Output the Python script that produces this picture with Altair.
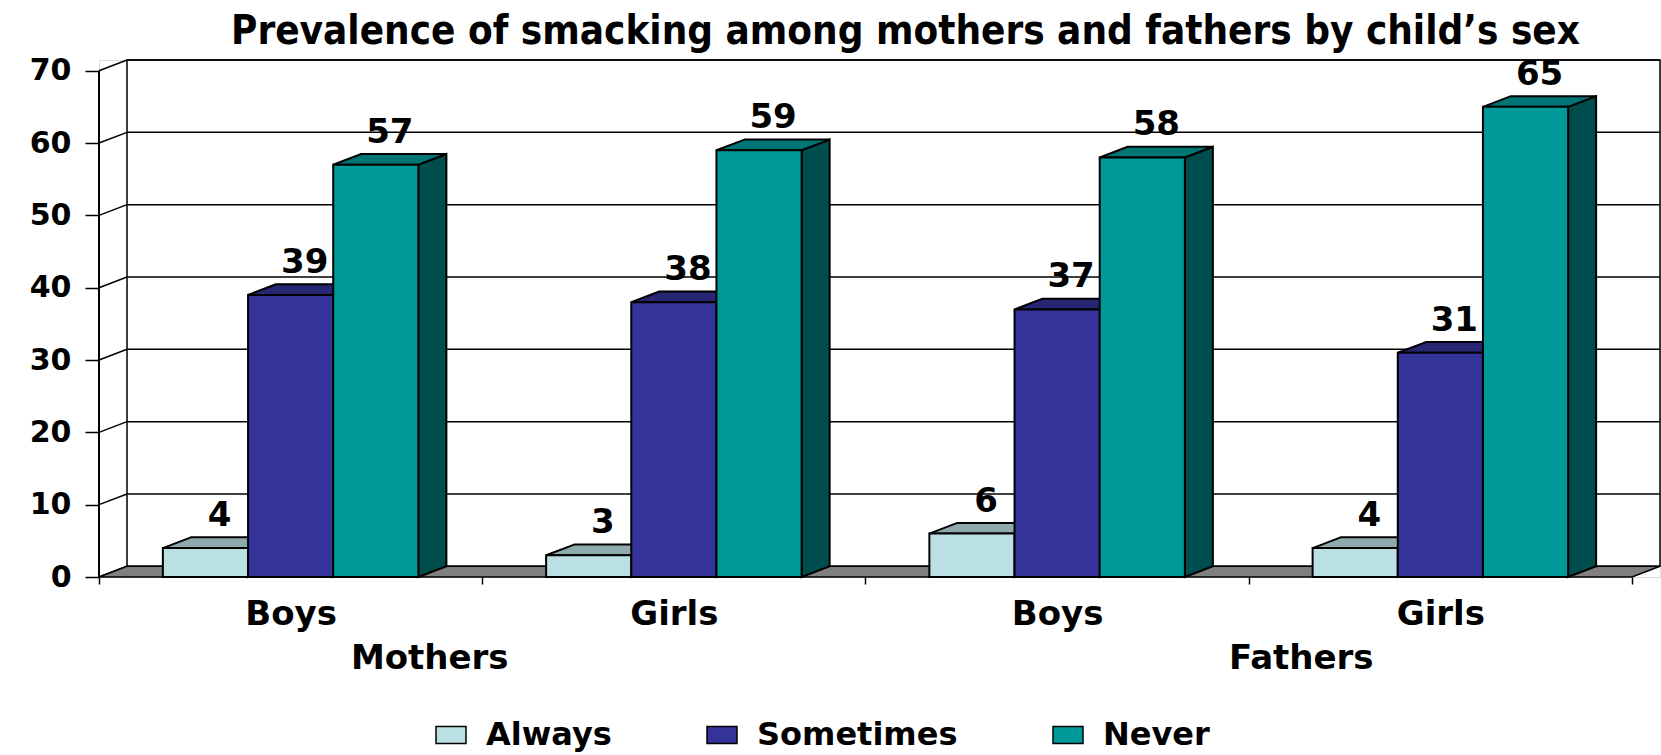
import json
import altair as alt
import pandas as pd

# ---------------- data ----------------
categories = ["Boys", "Girls", "Boys", "Girls"]
parents = ["Mothers", "Mothers", "Fathers", "Fathers"]
parent_names = ["Mothers", "Fathers"]
series = ["Always", "Sometimes", "Never"]
always = [4, 3, 6, 4]
sometimes = [39, 38, 37, 31]
never = [57, 59, 58, 65]
y_ticks = [0, 10, 20, 30, 40, 50, 60, 70]
title_text = "Prevalence of smacking among mothers and fathers by child\u2019s sex"

# ---------------- styles ----------------
front_colors = ["#BBE0E3", "#333399", "#009999"]
top_colors = ["#8FAAAC", "#262673", "#007575"]
side_colors = ["#7E9A9C", "#1F1F5C", "#004D4D"]
FONT = "DejaVu Sans"
TITLE_FONT = "Liberation Sans Narrow, DejaVu Sans Condensed, Liberation Sans"

# ---------------- geometry (chart units) ----------------
N = len(categories)
GAP = 1.5                       # gap between groups, in bar widths
BW = 1.0 / (len(series) + GAP)  # bar width in category units
DX = 0.0731                     # 3-D depth, x (category units)
DY = 1.48                       # 3-D depth, y (value units)
YMAX = 70
W, H = 1561, 517

values = {"Always": always, "Sometimes": sometimes, "Never": never}

bars, tops, sides = [], [], []
for c in range(N):
    for k, s in enumerate(series):
        v = values[s][c]
        x0 = c + BW * (GAP / 2 + k)
        x1 = x0 + BW
        bid = f"{c}-{k}"
        bars.append(dict(bar=bid, series=s, value=v, x0=x0, x1=x1,
                         xm=(x0 + x1) / 2 + DX / 2, label=str(v)))
        tops.append(dict(bar=bid, y=v, xa=x0, xb=x1, fill=top_colors[k]))
        tops.append(dict(bar=bid, y=v + DY, xa=x0 + DX, xb=x1 + DX, fill=top_colors[k]))
        sides.append(dict(bar=bid, x=x1, ya=v, yb=0, fill=side_colors[k]))
        sides.append(dict(bar=bid, x=x1 + DX, ya=v + DY, yb=DY, fill=side_colors[k]))

bars_df = pd.DataFrame(bars)
tops_df = pd.DataFrame(tops)
sides_df = pd.DataFrame(sides)

wall_df = pd.DataFrame([dict(xa=DX, xb=N + DX, ya=DY, yb=YMAX + DY)])
grid_df = pd.DataFrame([dict(xa=DX, xb=N + DX, y=t + DY) for t in y_ticks[1:]])
diag_df = pd.DataFrame([dict(xa=0, xb=DX, ya=t, yb=t + DY) for t in y_ticks])
floor_df = pd.DataFrame([dict(y=0, xa=0, xb=N), dict(y=DY, xa=DX, xb=N + DX)])
front_axis_df = pd.DataFrame([dict(x=0, ya=0, yb=YMAX)])

centers = {}
for i, p in enumerate(parents):
    centers.setdefault(p, []).append(i + 0.5)
SHIFT = 0.137
group_df = pd.DataFrame([
    dict(name=p, x=sum(centers[p]) / len(centers[p]) + (-SHIFT if j == 0 else SHIFT))
    for j, p in enumerate(parent_names)
])

xscale = alt.Scale(domain=[0, N + DX], nice=False, zero=False)
yscale = alt.Scale(domain=[0, YMAX + DY], nice=False, zero=False)

cat_js = json.dumps(categories)
x_axis = alt.Axis(
    values=[i * 0.5 for i in range(2 * N + 1)],
    labelExpr=f"(datum.value % 1 == 0.5) ? {cat_js}[floor(datum.value)] : ''",
    tickOpacity={"condition": {"test": "datum.value % 1 == 0", "value": 1}, "value": 0},
    tickSize=7, tickWidth=1.5, tickColor="black",
    labelFont=FONT, labelFontSize=34, labelFontWeight="bold", labelColor="black",
    labelPadding=13, labelOverlap=False, labelFlush=False,
    domain=False, grid=False, title=None,
)
y_axis = alt.Axis(
    values=y_ticks, tickSize=14, tickWidth=1.5, tickColor="black",
    labelFont=FONT, labelFontSize=30, labelFontWeight="bold", labelColor="black",
    labelPadding=14, domain=False, grid=False, title=None,
)


def X(field):
    return alt.X(field, type="quantitative", scale=xscale, axis=x_axis)


def Y(field):
    return alt.Y(field, type="quantitative", scale=yscale, axis=y_axis)


wall = alt.Chart(wall_df).mark_rect(fill="white", stroke="black", strokeWidth=1.5).encode(
    x=X("xa"), x2="xb:Q", y=Y("ya"), y2="yb:Q",
)
grid = alt.Chart(grid_df).mark_rule(color="black", strokeWidth=1.5).encode(
    x=X("xa"), x2="xb:Q", y=Y("y"),
)
diag = alt.Chart(diag_df).mark_rule(color="black", strokeWidth=1.5).encode(
    x=X("xa"), x2="xb:Q", y=Y("ya"), y2="yb:Q",
)
floor = alt.Chart(floor_df).mark_area(
    orient="horizontal", fill="#808080", stroke="black", strokeWidth=1.5
).encode(
    y=Y("y"), x=X("xa"), x2="xb:Q",
)
front_axis = alt.Chart(front_axis_df).mark_rule(color="black", strokeWidth=2).encode(
    x=X("x"), y=Y("ya"), y2="yb:Q",
)
side = alt.Chart(sides_df).mark_area(
    orient="vertical", stroke="black", strokeWidth=2, opacity=1
).encode(
    x=X("x"), y=Y("ya"), y2="yb:Q",
    fill=alt.Fill("fill:N", scale=None),
    detail="bar:N",
)
top = alt.Chart(tops_df).mark_area(
    orient="horizontal", stroke="black", strokeWidth=2, opacity=1
).encode(
    y=Y("y"), x=X("xa"), x2="xb:Q",
    fill=alt.Fill("fill:N", scale=None),
    detail="bar:N",
)
front = alt.Chart(bars_df).mark_rect(stroke="black", strokeWidth=2, opacity=1).encode(
    x=X("x0"), x2="x1:Q",
    y=Y("value"), y2=alt.Y2(datum=0),
    fill=alt.Fill(
        "series:N",
        scale=alt.Scale(domain=series, range=front_colors),
        sort=series,
        legend=alt.Legend(
            orient="none", legendX=336, legendY=659, direction="horizontal",
            columns=3, title=None, padding=0,
            labelFont=FONT, labelFontSize=32, labelFontWeight="bold", labelColor="black",
            labelLimit=600,
            symbolType="M-1,-0.56H1V0.56H-1Z", symbolSize=900,
            symbolStrokeColor="black", symbolStrokeWidth=1.5, symbolOpacity=1,
            labelOffset=19, columnPadding=92,
        ),
    ),
)
labels = alt.Chart(bars_df).mark_text(
    font=FONT, fontSize=34, fontWeight="bold", color="black", baseline="middle", dy=-32
).encode(
    x=X("xm"), y=Y("value"),
    text="label:N",
)
group_labels = alt.Chart(group_df).mark_text(
    font=FONT, fontSize=34, fontWeight="bold", color="black", baseline="middle"
).encode(
    x=X("x"),
    y=alt.value(H + 82),
    text="name:N",
)

chart = alt.layer(
    wall, grid, diag, floor, front_axis, side, top, front, labels, group_labels
).properties(
    width=W, height=H,
    title=alt.TitleParams(
        text=title_text, font=TITLE_FONT, fontSize=40, fontWeight="bold",
        color="black", anchor="middle", dx=26, dy=43, baseline="alphabetic", offset=15,
    ),
    autosize=alt.AutoSizeParams(type="none"),
    padding={"left": 99, "top": 60, "right": 1, "bottom": 178},
).configure_view(stroke=None).configure(background="white")

chart.save("out.html", embed_options={"renderer": "svg", "actions": False})
